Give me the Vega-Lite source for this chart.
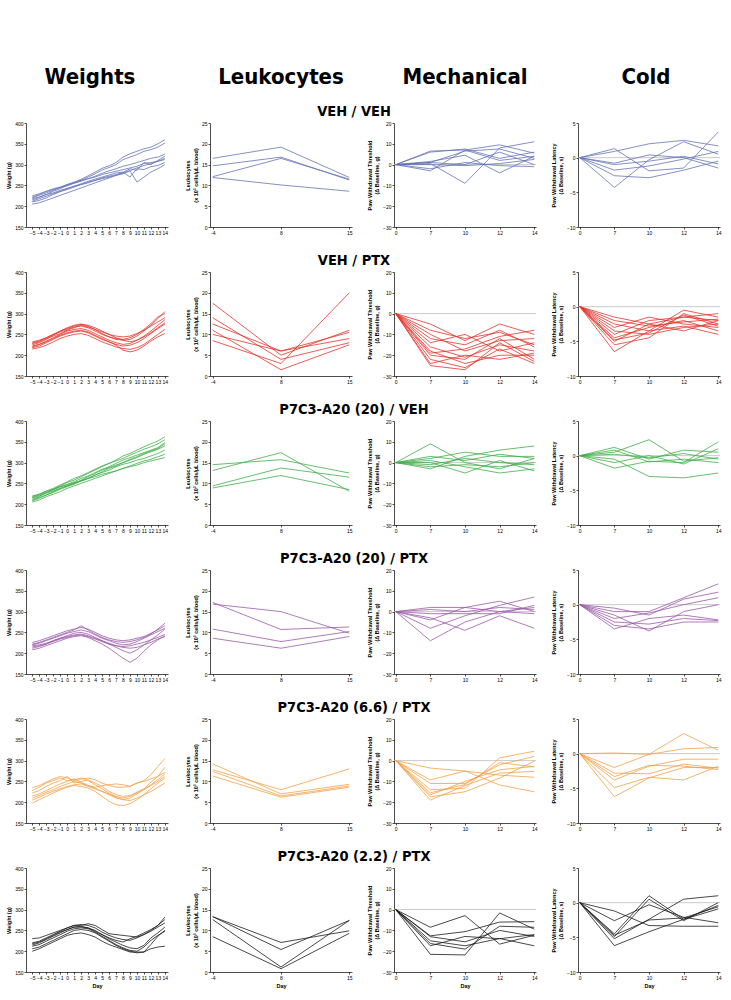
{
"$schema": "https://vega.github.io/schema/vega-lite/v6.json",
"padding": {"top": 66, "left": 6, "right": 0, "bottom": 0},
"bounds": "flush",
"columns": 4,
"spacing": {"row": 45, "column": 42},
"config": {
 "view": {"stroke": null},
 "font": "Liberation Sans",
 "axis": {"grid": false, "domainColor": "#000", "domainWidth": 0.7, "tickColor": "#000", "tickWidth": 0.7, "tickSize": 2, "labelFontSize": 5, "labelColor": "#000", "labelPadding": 1, "labelOverlap": false, "titleFontSize": 5.5, "titleFontWeight": "bold", "titleColor": "#000", "titlePadding": 3},
 "axisX": {"labelAngle": 0, "labelOverlap": false},
 "axisY": {"labelOverlap": false},
 "title": {"font": "Liberation Sans Narrow, DejaVu Sans Condensed, Liberation Sans, sans-serif", "fontSize": 14.5, "fontWeight": "bold", "color": "#000", "anchor": "middle", "frame": "group", "baseline": "alphabetic", "offset": 2, "dx": -111}
},
"datasets": {
"w1": [
{"a":1,"d":-5,"v":220},{"a":1,"d":-4,"v":226},{"a":1,"d":-3,"v":232},{"a":1,"d":-2,"v":238},{"a":1,"d":-1,"v":245},{"a":1,"d":0,"v":252},{"a":1,"d":1,"v":257},{"a":1,"d":2,"v":265},{"a":1,"d":3,"v":273},{"a":1,"d":4,"v":282},{"a":1,"d":5,"v":291},{"a":1,"d":6,"v":297},{"a":1,"d":7,"v":305},{"a":1,"d":8,"v":318},{"a":1,"d":9,"v":326},{"a":1,"d":10,"v":332},{"a":1,"d":11,"v":338},{"a":1,"d":12,"v":342},{"a":1,"d":13,"v":350},{"a":1,"d":14,"v":360},
{"a":2,"d":-5,"v":215},{"a":2,"d":-4,"v":221},{"a":2,"d":-3,"v":228},{"a":2,"d":-2,"v":236},{"a":2,"d":-1,"v":242},{"a":2,"d":0,"v":250},{"a":2,"d":1,"v":256},{"a":2,"d":2,"v":262},{"a":2,"d":3,"v":270},{"a":2,"d":4,"v":278},{"a":2,"d":5,"v":287},{"a":2,"d":6,"v":293},{"a":2,"d":7,"v":300},{"a":2,"d":8,"v":312},{"a":2,"d":9,"v":318},{"a":2,"d":10,"v":324},{"a":2,"d":11,"v":332},{"a":2,"d":12,"v":336},{"a":2,"d":13,"v":342},{"a":2,"d":14,"v":352},
{"a":3,"d":-5,"v":222},{"a":3,"d":-4,"v":228},{"a":3,"d":-3,"v":235},{"a":3,"d":-2,"v":240},{"a":3,"d":-1,"v":245},{"a":3,"d":0,"v":249},{"a":3,"d":1,"v":255},{"a":3,"d":2,"v":260},{"a":3,"d":3,"v":266},{"a":3,"d":4,"v":272},{"a":3,"d":5,"v":279},{"a":3,"d":6,"v":285},{"a":3,"d":7,"v":290},{"a":3,"d":8,"v":296},{"a":3,"d":9,"v":300},{"a":3,"d":10,"v":305},{"a":3,"d":11,"v":310},{"a":3,"d":12,"v":315},{"a":3,"d":13,"v":318},{"a":3,"d":14,"v":325},
{"a":4,"d":-5,"v":210},{"a":4,"d":-4,"v":214},{"a":4,"d":-3,"v":220},{"a":4,"d":-2,"v":228},{"a":4,"d":-1,"v":235},{"a":4,"d":0,"v":240},{"a":4,"d":1,"v":246},{"a":4,"d":2,"v":252},{"a":4,"d":3,"v":258},{"a":4,"d":4,"v":262},{"a":4,"d":5,"v":268},{"a":4,"d":6,"v":272},{"a":4,"d":7,"v":276},{"a":4,"d":8,"v":281},{"a":4,"d":9,"v":290},{"a":4,"d":10,"v":286},{"a":4,"d":11,"v":305},{"a":4,"d":12,"v":300},{"a":4,"d":13,"v":310},{"a":4,"d":14,"v":320},
{"a":5,"d":-5,"v":225},{"a":5,"d":-4,"v":230},{"a":5,"d":-3,"v":236},{"a":5,"d":-2,"v":242},{"a":5,"d":-1,"v":246},{"a":5,"d":0,"v":252},{"a":5,"d":1,"v":258},{"a":5,"d":2,"v":262},{"a":5,"d":3,"v":266},{"a":5,"d":4,"v":270},{"a":5,"d":5,"v":276},{"a":5,"d":6,"v":280},{"a":5,"d":7,"v":284},{"a":5,"d":8,"v":288},{"a":5,"d":9,"v":292},{"a":5,"d":10,"v":296},{"a":5,"d":11,"v":303},{"a":5,"d":12,"v":305},{"a":5,"d":13,"v":308},{"a":5,"d":14,"v":312},
{"a":6,"d":-5,"v":212},{"a":6,"d":-4,"v":218},{"a":6,"d":-3,"v":224},{"a":6,"d":-2,"v":230},{"a":6,"d":-1,"v":236},{"a":6,"d":0,"v":242},{"a":6,"d":1,"v":248},{"a":6,"d":2,"v":254},{"a":6,"d":3,"v":260},{"a":6,"d":4,"v":265},{"a":6,"d":5,"v":270},{"a":6,"d":6,"v":275},{"a":6,"d":7,"v":280},{"a":6,"d":8,"v":282},{"a":6,"d":9,"v":270},{"a":6,"d":10,"v":290},{"a":6,"d":11,"v":288},{"a":6,"d":12,"v":295},{"a":6,"d":13,"v":298},{"a":6,"d":14,"v":305},
{"a":7,"d":-5,"v":218},{"a":7,"d":-4,"v":222},{"a":7,"d":-3,"v":228},{"a":7,"d":-2,"v":232},{"a":7,"d":-1,"v":238},{"a":7,"d":0,"v":243},{"a":7,"d":1,"v":248},{"a":7,"d":2,"v":252},{"a":7,"d":3,"v":256},{"a":7,"d":4,"v":262},{"a":7,"d":5,"v":266},{"a":7,"d":6,"v":270},{"a":7,"d":7,"v":274},{"a":7,"d":8,"v":278},{"a":7,"d":9,"v":285},{"a":7,"d":10,"v":258},{"a":7,"d":11,"v":270},{"a":7,"d":12,"v":282},{"a":7,"d":13,"v":290},{"a":7,"d":14,"v":300},
{"a":8,"d":-5,"v":205},{"a":8,"d":-4,"v":208},{"a":8,"d":-3,"v":214},{"a":8,"d":-2,"v":220},{"a":8,"d":-1,"v":226},{"a":8,"d":0,"v":232},{"a":8,"d":1,"v":238},{"a":8,"d":2,"v":244},{"a":8,"d":3,"v":250},{"a":8,"d":4,"v":256},{"a":8,"d":5,"v":262},{"a":8,"d":6,"v":268},{"a":8,"d":7,"v":274},{"a":8,"d":8,"v":280},{"a":8,"d":9,"v":286},{"a":8,"d":10,"v":292},{"a":8,"d":11,"v":298},{"a":8,"d":12,"v":302},{"a":8,"d":13,"v":308},{"a":8,"d":14,"v":315}
],
"w2": [
{"a":1,"d":-5,"v":225},{"a":1,"d":-4,"v":230},{"a":1,"d":-3,"v":238},{"a":1,"d":-2,"v":248},{"a":1,"d":-1,"v":258},{"a":1,"d":0,"v":266},{"a":1,"d":1,"v":272},{"a":1,"d":2,"v":275},{"a":1,"d":3,"v":270},{"a":1,"d":4,"v":262},{"a":1,"d":5,"v":252},{"a":1,"d":6,"v":244},{"a":1,"d":7,"v":238},{"a":1,"d":8,"v":236},{"a":1,"d":9,"v":238},{"a":1,"d":10,"v":246},{"a":1,"d":11,"v":258},{"a":1,"d":12,"v":272},{"a":1,"d":13,"v":288},{"a":1,"d":14,"v":305},
{"a":2,"d":-5,"v":230},{"a":2,"d":-4,"v":234},{"a":2,"d":-3,"v":242},{"a":2,"d":-2,"v":250},{"a":2,"d":-1,"v":256},{"a":2,"d":0,"v":262},{"a":2,"d":1,"v":268},{"a":2,"d":2,"v":270},{"a":2,"d":3,"v":266},{"a":2,"d":4,"v":258},{"a":2,"d":5,"v":250},{"a":2,"d":6,"v":244},{"a":2,"d":7,"v":240},{"a":2,"d":8,"v":238},{"a":2,"d":9,"v":242},{"a":2,"d":10,"v":250},{"a":2,"d":11,"v":262},{"a":2,"d":12,"v":276},{"a":2,"d":13,"v":292},{"a":2,"d":14,"v":300},
{"a":3,"d":-5,"v":220},{"a":3,"d":-4,"v":226},{"a":3,"d":-3,"v":234},{"a":3,"d":-2,"v":242},{"a":3,"d":-1,"v":250},{"a":3,"d":0,"v":258},{"a":3,"d":1,"v":262},{"a":3,"d":2,"v":264},{"a":3,"d":3,"v":260},{"a":3,"d":4,"v":252},{"a":3,"d":5,"v":244},{"a":3,"d":6,"v":236},{"a":3,"d":7,"v":230},{"a":3,"d":8,"v":226},{"a":3,"d":9,"v":228},{"a":3,"d":10,"v":236},{"a":3,"d":11,"v":246},{"a":3,"d":12,"v":258},{"a":3,"d":13,"v":272},{"a":3,"d":14,"v":285},
{"a":4,"d":-5,"v":218},{"a":4,"d":-4,"v":222},{"a":4,"d":-3,"v":230},{"a":4,"d":-2,"v":238},{"a":4,"d":-1,"v":246},{"a":4,"d":0,"v":252},{"a":4,"d":1,"v":256},{"a":4,"d":2,"v":258},{"a":4,"d":3,"v":254},{"a":4,"d":4,"v":246},{"a":4,"d":5,"v":238},{"a":4,"d":6,"v":232},{"a":4,"d":7,"v":226},{"a":4,"d":8,"v":222},{"a":4,"d":9,"v":224},{"a":4,"d":10,"v":230},{"a":4,"d":11,"v":240},{"a":4,"d":12,"v":252},{"a":4,"d":13,"v":264},{"a":4,"d":14,"v":275},
{"a":5,"d":-5,"v":228},{"a":5,"d":-4,"v":232},{"a":5,"d":-3,"v":240},{"a":5,"d":-2,"v":246},{"a":5,"d":-1,"v":252},{"a":5,"d":0,"v":260},{"a":5,"d":1,"v":266},{"a":5,"d":2,"v":272},{"a":5,"d":3,"v":268},{"a":5,"d":4,"v":262},{"a":5,"d":5,"v":256},{"a":5,"d":6,"v":250},{"a":5,"d":7,"v":246},{"a":5,"d":8,"v":244},{"a":5,"d":9,"v":246},{"a":5,"d":10,"v":252},{"a":5,"d":11,"v":260},{"a":5,"d":12,"v":270},{"a":5,"d":13,"v":280},{"a":5,"d":14,"v":290},
{"a":6,"d":-5,"v":215},{"a":6,"d":-4,"v":218},{"a":6,"d":-3,"v":224},{"a":6,"d":-2,"v":232},{"a":6,"d":-1,"v":240},{"a":6,"d":0,"v":246},{"a":6,"d":1,"v":250},{"a":6,"d":2,"v":252},{"a":6,"d":3,"v":248},{"a":6,"d":4,"v":240},{"a":6,"d":5,"v":232},{"a":6,"d":6,"v":226},{"a":6,"d":7,"v":220},{"a":6,"d":8,"v":216},{"a":6,"d":9,"v":214},{"a":6,"d":10,"v":218},{"a":6,"d":11,"v":226},{"a":6,"d":12,"v":238},{"a":6,"d":13,"v":250},{"a":6,"d":14,"v":262},
{"a":7,"d":-5,"v":232},{"a":7,"d":-4,"v":236},{"a":7,"d":-3,"v":242},{"a":7,"d":-2,"v":250},{"a":7,"d":-1,"v":258},{"a":7,"d":0,"v":264},{"a":7,"d":1,"v":270},{"a":7,"d":2,"v":274},{"a":7,"d":3,"v":272},{"a":7,"d":4,"v":266},{"a":7,"d":5,"v":258},{"a":7,"d":6,"v":250},{"a":7,"d":7,"v":242},{"a":7,"d":8,"v":236},{"a":7,"d":9,"v":232},{"a":7,"d":10,"v":236},{"a":7,"d":11,"v":244},{"a":7,"d":12,"v":254},{"a":7,"d":13,"v":266},{"a":7,"d":14,"v":278},
{"a":8,"d":-5,"v":222},{"a":8,"d":-4,"v":226},{"a":8,"d":-3,"v":232},{"a":8,"d":-2,"v":240},{"a":8,"d":-1,"v":248},{"a":8,"d":0,"v":254},{"a":8,"d":1,"v":258},{"a":8,"d":2,"v":260},{"a":8,"d":3,"v":256},{"a":8,"d":4,"v":248},{"a":8,"d":5,"v":240},{"a":8,"d":6,"v":232},{"a":8,"d":7,"v":224},{"a":8,"d":8,"v":212},{"a":8,"d":9,"v":208},{"a":8,"d":10,"v":212},{"a":8,"d":11,"v":222},{"a":8,"d":12,"v":234},{"a":8,"d":13,"v":244},{"a":8,"d":14,"v":252}
],
"w3": [
{"a":1,"d":-5,"v":212},{"a":1,"d":-4,"v":218},{"a":1,"d":-3,"v":228},{"a":1,"d":-2,"v":236},{"a":1,"d":-1,"v":244},{"a":1,"d":0,"v":252},{"a":1,"d":1,"v":258},{"a":1,"d":2,"v":266},{"a":1,"d":3,"v":274},{"a":1,"d":4,"v":282},{"a":1,"d":5,"v":290},{"a":1,"d":6,"v":298},{"a":1,"d":7,"v":306},{"a":1,"d":8,"v":316},{"a":1,"d":9,"v":322},{"a":1,"d":10,"v":330},{"a":1,"d":11,"v":338},{"a":1,"d":12,"v":345},{"a":1,"d":13,"v":352},{"a":1,"d":14,"v":362},
{"a":2,"d":-5,"v":218},{"a":2,"d":-4,"v":224},{"a":2,"d":-3,"v":232},{"a":2,"d":-2,"v":238},{"a":2,"d":-1,"v":246},{"a":2,"d":0,"v":254},{"a":2,"d":1,"v":262},{"a":2,"d":2,"v":268},{"a":2,"d":3,"v":276},{"a":2,"d":4,"v":284},{"a":2,"d":5,"v":292},{"a":2,"d":6,"v":298},{"a":2,"d":7,"v":304},{"a":2,"d":8,"v":310},{"a":2,"d":9,"v":318},{"a":2,"d":10,"v":325},{"a":2,"d":11,"v":332},{"a":2,"d":12,"v":338},{"a":2,"d":13,"v":345},{"a":2,"d":14,"v":355},
{"a":3,"d":-5,"v":208},{"a":3,"d":-4,"v":214},{"a":3,"d":-3,"v":222},{"a":3,"d":-2,"v":230},{"a":3,"d":-1,"v":238},{"a":3,"d":0,"v":244},{"a":3,"d":1,"v":250},{"a":3,"d":2,"v":258},{"a":3,"d":3,"v":266},{"a":3,"d":4,"v":274},{"a":3,"d":5,"v":282},{"a":3,"d":6,"v":288},{"a":3,"d":7,"v":294},{"a":3,"d":8,"v":300},{"a":3,"d":9,"v":308},{"a":3,"d":10,"v":314},{"a":3,"d":11,"v":322},{"a":3,"d":12,"v":328},{"a":3,"d":13,"v":334},{"a":3,"d":14,"v":345},
{"a":4,"d":-5,"v":215},{"a":4,"d":-4,"v":220},{"a":4,"d":-3,"v":226},{"a":4,"d":-2,"v":232},{"a":4,"d":-1,"v":238},{"a":4,"d":0,"v":244},{"a":4,"d":1,"v":250},{"a":4,"d":2,"v":256},{"a":4,"d":3,"v":262},{"a":4,"d":4,"v":270},{"a":4,"d":5,"v":276},{"a":4,"d":6,"v":282},{"a":4,"d":7,"v":290},{"a":4,"d":8,"v":296},{"a":4,"d":9,"v":300},{"a":4,"d":10,"v":306},{"a":4,"d":11,"v":310},{"a":4,"d":12,"v":316},{"a":4,"d":13,"v":322},{"a":4,"d":14,"v":330},
{"a":5,"d":-5,"v":205},{"a":5,"d":-4,"v":210},{"a":5,"d":-3,"v":218},{"a":5,"d":-2,"v":224},{"a":5,"d":-1,"v":230},{"a":5,"d":0,"v":238},{"a":5,"d":1,"v":244},{"a":5,"d":2,"v":250},{"a":5,"d":3,"v":256},{"a":5,"d":4,"v":262},{"a":5,"d":5,"v":268},{"a":5,"d":6,"v":274},{"a":5,"d":7,"v":280},{"a":5,"d":8,"v":286},{"a":5,"d":9,"v":292},{"a":5,"d":10,"v":298},{"a":5,"d":11,"v":304},{"a":5,"d":12,"v":308},{"a":5,"d":13,"v":314},{"a":5,"d":14,"v":320},
{"a":6,"d":-5,"v":220},{"a":6,"d":-4,"v":224},{"a":6,"d":-3,"v":230},{"a":6,"d":-2,"v":236},{"a":6,"d":-1,"v":242},{"a":6,"d":0,"v":246},{"a":6,"d":1,"v":252},{"a":6,"d":2,"v":256},{"a":6,"d":3,"v":262},{"a":6,"d":4,"v":266},{"a":6,"d":5,"v":272},{"a":6,"d":6,"v":276},{"a":6,"d":7,"v":280},{"a":6,"d":8,"v":286},{"a":6,"d":9,"v":290},{"a":6,"d":10,"v":294},{"a":6,"d":11,"v":300},{"a":6,"d":12,"v":304},{"a":6,"d":13,"v":308},{"a":6,"d":14,"v":312},
{"a":7,"d":-5,"v":210},{"a":7,"d":-4,"v":216},{"a":7,"d":-3,"v":222},{"a":7,"d":-2,"v":228},{"a":7,"d":-1,"v":236},{"a":7,"d":0,"v":242},{"a":7,"d":1,"v":248},{"a":7,"d":2,"v":256},{"a":7,"d":3,"v":262},{"a":7,"d":4,"v":270},{"a":7,"d":5,"v":278},{"a":7,"d":6,"v":286},{"a":7,"d":7,"v":292},{"a":7,"d":8,"v":300},{"a":7,"d":9,"v":306},{"a":7,"d":10,"v":312},{"a":7,"d":11,"v":320},{"a":7,"d":12,"v":326},{"a":7,"d":13,"v":332},{"a":7,"d":14,"v":340},
{"a":8,"d":-5,"v":216},{"a":8,"d":-4,"v":222},{"a":8,"d":-3,"v":228},{"a":8,"d":-2,"v":234},{"a":8,"d":-1,"v":242},{"a":8,"d":0,"v":248},{"a":8,"d":1,"v":254},{"a":8,"d":2,"v":262},{"a":8,"d":3,"v":268},{"a":8,"d":4,"v":276},{"a":8,"d":5,"v":284},{"a":8,"d":6,"v":290},{"a":8,"d":7,"v":298},{"a":8,"d":8,"v":306},{"a":8,"d":9,"v":312},{"a":8,"d":10,"v":318},{"a":8,"d":11,"v":324},{"a":8,"d":12,"v":330},{"a":8,"d":13,"v":336},{"a":8,"d":14,"v":348}
],
"w4": [
{"a":1,"d":-5,"v":220},{"a":1,"d":-4,"v":224},{"a":1,"d":-3,"v":230},{"a":1,"d":-2,"v":236},{"a":1,"d":-1,"v":242},{"a":1,"d":0,"v":248},{"a":1,"d":1,"v":252},{"a":1,"d":2,"v":256},{"a":1,"d":3,"v":252},{"a":1,"d":4,"v":244},{"a":1,"d":5,"v":236},{"a":1,"d":6,"v":230},{"a":1,"d":7,"v":224},{"a":1,"d":8,"v":220},{"a":1,"d":9,"v":222},{"a":1,"d":10,"v":228},{"a":1,"d":11,"v":236},{"a":1,"d":12,"v":244},{"a":1,"d":13,"v":252},{"a":1,"d":14,"v":260},
{"a":2,"d":-5,"v":212},{"a":2,"d":-4,"v":216},{"a":2,"d":-3,"v":222},{"a":2,"d":-2,"v":230},{"a":2,"d":-1,"v":236},{"a":2,"d":0,"v":242},{"a":2,"d":1,"v":248},{"a":2,"d":2,"v":250},{"a":2,"d":3,"v":246},{"a":2,"d":4,"v":238},{"a":2,"d":5,"v":230},{"a":2,"d":6,"v":222},{"a":2,"d":7,"v":214},{"a":2,"d":8,"v":206},{"a":2,"d":9,"v":200},{"a":2,"d":10,"v":208},{"a":2,"d":11,"v":220},{"a":2,"d":12,"v":232},{"a":2,"d":13,"v":244},{"a":2,"d":14,"v":258},
{"a":3,"d":-5,"v":226},{"a":3,"d":-4,"v":230},{"a":3,"d":-3,"v":236},{"a":3,"d":-2,"v":242},{"a":3,"d":-1,"v":248},{"a":3,"d":0,"v":254},{"a":3,"d":1,"v":258},{"a":3,"d":2,"v":262},{"a":3,"d":3,"v":258},{"a":3,"d":4,"v":250},{"a":3,"d":5,"v":242},{"a":3,"d":6,"v":236},{"a":3,"d":7,"v":232},{"a":3,"d":8,"v":230},{"a":3,"d":9,"v":232},{"a":3,"d":10,"v":236},{"a":3,"d":11,"v":240},{"a":3,"d":12,"v":248},{"a":3,"d":13,"v":256},{"a":3,"d":14,"v":266},
{"a":4,"d":-5,"v":215},{"a":4,"d":-4,"v":218},{"a":4,"d":-3,"v":222},{"a":4,"d":-2,"v":228},{"a":4,"d":-1,"v":234},{"a":4,"d":0,"v":238},{"a":4,"d":1,"v":242},{"a":4,"d":2,"v":244},{"a":4,"d":3,"v":240},{"a":4,"d":4,"v":234},{"a":4,"d":5,"v":228},{"a":4,"d":6,"v":222},{"a":4,"d":7,"v":218},{"a":4,"d":8,"v":216},{"a":4,"d":9,"v":218},{"a":4,"d":10,"v":222},{"a":4,"d":11,"v":226},{"a":4,"d":12,"v":232},{"a":4,"d":13,"v":238},{"a":4,"d":14,"v":245},
{"a":5,"d":-5,"v":208},{"a":5,"d":-4,"v":212},{"a":5,"d":-3,"v":218},{"a":5,"d":-2,"v":224},{"a":5,"d":-1,"v":230},{"a":5,"d":0,"v":236},{"a":5,"d":1,"v":240},{"a":5,"d":2,"v":242},{"a":5,"d":3,"v":238},{"a":5,"d":4,"v":230},{"a":5,"d":5,"v":222},{"a":5,"d":6,"v":212},{"a":5,"d":7,"v":200},{"a":5,"d":8,"v":188},{"a":5,"d":9,"v":178},{"a":5,"d":10,"v":188},{"a":5,"d":11,"v":205},{"a":5,"d":12,"v":220},{"a":5,"d":13,"v":232},{"a":5,"d":14,"v":242},
{"a":6,"d":-5,"v":222},{"a":6,"d":-4,"v":226},{"a":6,"d":-3,"v":232},{"a":6,"d":-2,"v":238},{"a":6,"d":-1,"v":244},{"a":6,"d":0,"v":250},{"a":6,"d":1,"v":256},{"a":6,"d":2,"v":266},{"a":6,"d":3,"v":256},{"a":6,"d":4,"v":246},{"a":6,"d":5,"v":238},{"a":6,"d":6,"v":232},{"a":6,"d":7,"v":228},{"a":6,"d":8,"v":226},{"a":6,"d":9,"v":228},{"a":6,"d":10,"v":232},{"a":6,"d":11,"v":238},{"a":6,"d":12,"v":246},{"a":6,"d":13,"v":258},{"a":6,"d":14,"v":272},
{"a":7,"d":-5,"v":218},{"a":7,"d":-4,"v":220},{"a":7,"d":-3,"v":224},{"a":7,"d":-2,"v":230},{"a":7,"d":-1,"v":236},{"a":7,"d":0,"v":240},{"a":7,"d":1,"v":244},{"a":7,"d":2,"v":246},{"a":7,"d":3,"v":242},{"a":7,"d":4,"v":236},{"a":7,"d":5,"v":230},{"a":7,"d":6,"v":224},{"a":7,"d":7,"v":218},{"a":7,"d":8,"v":214},{"a":7,"d":9,"v":212},{"a":7,"d":10,"v":214},{"a":7,"d":11,"v":220},{"a":7,"d":12,"v":226},{"a":7,"d":13,"v":234},{"a":7,"d":14,"v":240}
],
"w5": [
{"a":1,"d":-5,"v":235},{"a":1,"d":-4,"v":240},{"a":1,"d":-3,"v":248},{"a":1,"d":-2,"v":256},{"a":1,"d":-1,"v":262},{"a":1,"d":0,"v":258},{"a":1,"d":1,"v":252},{"a":1,"d":2,"v":256},{"a":1,"d":3,"v":258},{"a":1,"d":4,"v":254},{"a":1,"d":5,"v":246},{"a":1,"d":6,"v":240},{"a":1,"d":7,"v":236},{"a":1,"d":8,"v":236},{"a":1,"d":9,"v":238},{"a":1,"d":10,"v":246},{"a":1,"d":11,"v":252},{"a":1,"d":12,"v":266},{"a":1,"d":13,"v":286},{"a":1,"d":14,"v":305},
{"a":2,"d":-5,"v":222},{"a":2,"d":-4,"v":228},{"a":2,"d":-3,"v":238},{"a":2,"d":-2,"v":246},{"a":2,"d":-1,"v":252},{"a":2,"d":0,"v":262},{"a":2,"d":1,"v":246},{"a":2,"d":2,"v":250},{"a":2,"d":3,"v":254},{"a":2,"d":4,"v":246},{"a":2,"d":5,"v":238},{"a":2,"d":6,"v":226},{"a":2,"d":7,"v":218},{"a":2,"d":8,"v":214},{"a":2,"d":9,"v":216},{"a":2,"d":10,"v":224},{"a":2,"d":11,"v":232},{"a":2,"d":12,"v":248},{"a":2,"d":13,"v":262},{"a":2,"d":14,"v":284},
{"a":3,"d":-5,"v":228},{"a":3,"d":-4,"v":236},{"a":3,"d":-3,"v":246},{"a":3,"d":-2,"v":252},{"a":3,"d":-1,"v":258},{"a":3,"d":0,"v":252},{"a":3,"d":1,"v":254},{"a":3,"d":2,"v":258},{"a":3,"d":3,"v":252},{"a":3,"d":4,"v":242},{"a":3,"d":5,"v":232},{"a":3,"d":6,"v":222},{"a":3,"d":7,"v":214},{"a":3,"d":8,"v":210},{"a":3,"d":9,"v":214},{"a":3,"d":10,"v":222},{"a":3,"d":11,"v":232},{"a":3,"d":12,"v":242},{"a":3,"d":13,"v":254},{"a":3,"d":14,"v":268},
{"a":4,"d":-5,"v":215},{"a":4,"d":-4,"v":220},{"a":4,"d":-3,"v":228},{"a":4,"d":-2,"v":236},{"a":4,"d":-1,"v":244},{"a":4,"d":0,"v":250},{"a":4,"d":1,"v":256},{"a":4,"d":2,"v":248},{"a":4,"d":3,"v":240},{"a":4,"d":4,"v":234},{"a":4,"d":5,"v":226},{"a":4,"d":6,"v":218},{"a":4,"d":7,"v":210},{"a":4,"d":8,"v":206},{"a":4,"d":9,"v":210},{"a":4,"d":10,"v":220},{"a":4,"d":11,"v":230},{"a":4,"d":12,"v":240},{"a":4,"d":13,"v":250},{"a":4,"d":14,"v":262},
{"a":5,"d":-5,"v":210},{"a":5,"d":-4,"v":216},{"a":5,"d":-3,"v":224},{"a":5,"d":-2,"v":230},{"a":5,"d":-1,"v":238},{"a":5,"d":0,"v":244},{"a":5,"d":1,"v":250},{"a":5,"d":2,"v":246},{"a":5,"d":3,"v":240},{"a":5,"d":4,"v":236},{"a":5,"d":5,"v":240},{"a":5,"d":6,"v":242},{"a":5,"d":7,"v":244},{"a":5,"d":8,"v":242},{"a":5,"d":9,"v":238},{"a":5,"d":10,"v":246},{"a":5,"d":11,"v":250},{"a":5,"d":12,"v":256},{"a":5,"d":13,"v":262},{"a":5,"d":14,"v":272},
{"a":6,"d":-5,"v":198},{"a":6,"d":-4,"v":206},{"a":6,"d":-3,"v":214},{"a":6,"d":-2,"v":222},{"a":6,"d":-1,"v":230},{"a":6,"d":0,"v":236},{"a":6,"d":1,"v":240},{"a":6,"d":2,"v":238},{"a":6,"d":3,"v":234},{"a":6,"d":4,"v":226},{"a":6,"d":5,"v":214},{"a":6,"d":6,"v":202},{"a":6,"d":7,"v":194},{"a":6,"d":8,"v":192},{"a":6,"d":9,"v":196},{"a":6,"d":10,"v":206},{"a":6,"d":11,"v":218},{"a":6,"d":12,"v":232},{"a":6,"d":13,"v":246},{"a":6,"d":14,"v":258},
{"a":7,"d":-5,"v":205},{"a":7,"d":-4,"v":212},{"a":7,"d":-3,"v":220},{"a":7,"d":-2,"v":226},{"a":7,"d":-1,"v":232},{"a":7,"d":0,"v":238},{"a":7,"d":1,"v":242},{"a":7,"d":2,"v":244},{"a":7,"d":3,"v":238},{"a":7,"d":4,"v":232},{"a":7,"d":5,"v":226},{"a":7,"d":6,"v":220},{"a":7,"d":7,"v":212},{"a":7,"d":8,"v":206},{"a":7,"d":9,"v":204},{"a":7,"d":10,"v":210},{"a":7,"d":11,"v":218},{"a":7,"d":12,"v":226},{"a":7,"d":13,"v":236},{"a":7,"d":14,"v":246}
],
"w6": [
{"a":1,"d":-5,"v":230},{"a":1,"d":-4,"v":232},{"a":1,"d":-3,"v":238},{"a":1,"d":-2,"v":244},{"a":1,"d":-1,"v":250},{"a":1,"d":0,"v":256},{"a":1,"d":1,"v":262},{"a":1,"d":2,"v":262},{"a":1,"d":3,"v":266},{"a":1,"d":4,"v":262},{"a":1,"d":5,"v":252},{"a":1,"d":6,"v":242},{"a":1,"d":7,"v":240},{"a":1,"d":8,"v":238},{"a":1,"d":9,"v":236},{"a":1,"d":10,"v":234},{"a":1,"d":11,"v":240},{"a":1,"d":12,"v":248},{"a":1,"d":13,"v":258},{"a":1,"d":14,"v":268},
{"a":2,"d":-5,"v":220},{"a":2,"d":-4,"v":224},{"a":2,"d":-3,"v":232},{"a":2,"d":-2,"v":240},{"a":2,"d":-1,"v":248},{"a":2,"d":0,"v":256},{"a":2,"d":1,"v":262},{"a":2,"d":2,"v":264},{"a":2,"d":3,"v":262},{"a":2,"d":4,"v":256},{"a":2,"d":5,"v":246},{"a":2,"d":6,"v":238},{"a":2,"d":7,"v":232},{"a":2,"d":8,"v":228},{"a":2,"d":9,"v":226},{"a":2,"d":10,"v":232},{"a":2,"d":11,"v":240},{"a":2,"d":12,"v":250},{"a":2,"d":13,"v":262},{"a":2,"d":14,"v":276},
{"a":3,"d":-5,"v":215},{"a":3,"d":-4,"v":220},{"a":3,"d":-3,"v":228},{"a":3,"d":-2,"v":236},{"a":3,"d":-1,"v":244},{"a":3,"d":0,"v":252},{"a":3,"d":1,"v":258},{"a":3,"d":2,"v":258},{"a":3,"d":3,"v":256},{"a":3,"d":4,"v":250},{"a":3,"d":5,"v":240},{"a":3,"d":6,"v":230},{"a":3,"d":7,"v":222},{"a":3,"d":8,"v":214},{"a":3,"d":9,"v":208},{"a":3,"d":10,"v":206},{"a":3,"d":11,"v":214},{"a":3,"d":12,"v":232},{"a":3,"d":13,"v":244},{"a":3,"d":14,"v":258},
{"a":4,"d":-5,"v":212},{"a":4,"d":-4,"v":216},{"a":4,"d":-3,"v":224},{"a":4,"d":-2,"v":232},{"a":4,"d":-1,"v":240},{"a":4,"d":0,"v":248},{"a":4,"d":1,"v":254},{"a":4,"d":2,"v":256},{"a":4,"d":3,"v":254},{"a":4,"d":4,"v":246},{"a":4,"d":5,"v":236},{"a":4,"d":6,"v":226},{"a":4,"d":7,"v":216},{"a":4,"d":8,"v":208},{"a":4,"d":9,"v":202},{"a":4,"d":10,"v":200},{"a":4,"d":11,"v":210},{"a":4,"d":12,"v":226},{"a":4,"d":13,"v":238},{"a":4,"d":14,"v":248},
{"a":5,"d":-5,"v":206},{"a":5,"d":-4,"v":210},{"a":5,"d":-3,"v":218},{"a":5,"d":-2,"v":226},{"a":5,"d":-1,"v":234},{"a":5,"d":0,"v":242},{"a":5,"d":1,"v":250},{"a":5,"d":2,"v":252},{"a":5,"d":3,"v":250},{"a":5,"d":4,"v":244},{"a":5,"d":5,"v":234},{"a":5,"d":6,"v":224},{"a":5,"d":7,"v":214},{"a":5,"d":8,"v":206},{"a":5,"d":9,"v":200},{"a":5,"d":10,"v":196},{"a":5,"d":11,"v":198},{"a":5,"d":12,"v":216},{"a":5,"d":13,"v":236},{"a":5,"d":14,"v":250},
{"a":6,"d":-5,"v":200},{"a":6,"d":-4,"v":206},{"a":6,"d":-3,"v":214},{"a":6,"d":-2,"v":222},{"a":6,"d":-1,"v":230},{"a":6,"d":0,"v":238},{"a":6,"d":1,"v":242},{"a":6,"d":2,"v":244},{"a":6,"d":3,"v":240},{"a":6,"d":4,"v":234},{"a":6,"d":5,"v":224},{"a":6,"d":6,"v":216},{"a":6,"d":7,"v":210},{"a":6,"d":8,"v":204},{"a":6,"d":9,"v":198},{"a":6,"d":10,"v":198},{"a":6,"d":11,"v":198},{"a":6,"d":12,"v":206},{"a":6,"d":13,"v":210},{"a":6,"d":14,"v":212},
{"a":7,"d":-5,"v":218},{"a":7,"d":-4,"v":222},{"a":7,"d":-3,"v":230},{"a":7,"d":-2,"v":238},{"a":7,"d":-1,"v":246},{"a":7,"d":0,"v":252},{"a":7,"d":1,"v":258},{"a":7,"d":2,"v":260},{"a":7,"d":3,"v":256},{"a":7,"d":4,"v":248},{"a":7,"d":5,"v":240},{"a":7,"d":6,"v":232},{"a":7,"d":7,"v":226},{"a":7,"d":8,"v":222},{"a":7,"d":9,"v":230},{"a":7,"d":10,"v":236},{"a":7,"d":11,"v":244},{"a":7,"d":12,"v":252},{"a":7,"d":13,"v":262},{"a":7,"d":14,"v":282}
],
"l1": [{"a":1,"d":-4,"v":16.5},{"a":1,"d":8,"v":19.2},{"a":1,"d":15,"v":11.9},{"a":2,"d":-4,"v":14.7},{"a":2,"d":8,"v":16.8},{"a":2,"d":15,"v":11.3},{"a":3,"d":-4,"v":12.1},{"a":3,"d":8,"v":16.5},{"a":3,"d":15,"v":11.5},{"a":4,"d":-4,"v":11.9},{"a":4,"d":8,"v":10.1},{"a":4,"d":15,"v":8.6}],
"l2": [{"a":1,"d":-4,"v":17.5},{"a":1,"d":8,"v":5},{"a":1,"d":15,"v":11},{"a":2,"d":-4,"v":14},{"a":2,"d":8,"v":4},{"a":2,"d":15,"v":8},{"a":3,"d":-4,"v":12.5},{"a":3,"d":8,"v":6},{"a":3,"d":15,"v":9},{"a":4,"d":-4,"v":11},{"a":4,"d":8,"v":1.5},{"a":4,"d":15,"v":7.5},{"a":5,"d":-4,"v":10},{"a":5,"d":8,"v":6},{"a":5,"d":15,"v":10.5},{"a":6,"d":-4,"v":8.5},{"a":6,"d":8,"v":3},{"a":6,"d":15,"v":20}],
"l3": [{"a":1,"d":-4,"v":14.5},{"a":1,"d":8,"v":15.7},{"a":1,"d":15,"v":12.5},{"a":2,"d":-4,"v":13.1},{"a":2,"d":8,"v":17.4},{"a":2,"d":15,"v":8.1},{"a":3,"d":-4,"v":9.4},{"a":3,"d":8,"v":13.7},{"a":3,"d":15,"v":11.5},{"a":4,"d":-4,"v":8.9},{"a":4,"d":8,"v":11.9},{"a":4,"d":15,"v":8.5}],
"l4": [{"a":1,"d":-4,"v":17.2},{"a":1,"d":8,"v":10.7},{"a":1,"d":15,"v":11.3},{"a":2,"d":-4,"v":16.8},{"a":2,"d":8,"v":15},{"a":2,"d":15,"v":9.8},{"a":3,"d":-4,"v":10.8},{"a":3,"d":8,"v":7.8},{"a":3,"d":15,"v":10.2},{"a":4,"d":-4,"v":8.6},{"a":4,"d":8,"v":6.2},{"a":4,"d":15,"v":9}],
"l5": [{"a":1,"d":-4,"v":14.2},{"a":1,"d":8,"v":7},{"a":1,"d":15,"v":9.3},{"a":2,"d":-4,"v":12.8},{"a":2,"d":8,"v":8},{"a":2,"d":15,"v":13},{"a":3,"d":-4,"v":12.4},{"a":3,"d":8,"v":6.5},{"a":3,"d":15,"v":8.9},{"a":4,"d":-4,"v":11.3},{"a":4,"d":8,"v":6.2},{"a":4,"d":15,"v":8.6}],
"l6": [{"a":1,"d":-4,"v":13.3},{"a":1,"d":8,"v":7.1},{"a":1,"d":15,"v":9.9},{"a":2,"d":-4,"v":13.3},{"a":2,"d":8,"v":5.4},{"a":2,"d":15,"v":12.4},{"a":3,"d":-4,"v":12.6},{"a":3,"d":8,"v":1.2},{"a":3,"d":15,"v":12.4},{"a":4,"d":-4,"v":8.5},{"a":4,"d":8,"v":0.8},{"a":4,"d":15,"v":9.3}],
"m1": [
{"a":1,"d":0,"v":0},{"a":1,"d":7,"v":6.5},{"a":1,"d":10,"v":7},{"a":1,"d":12,"v":9.5},{"a":1,"d":14,"v":5.5},
{"a":2,"d":0,"v":0},{"a":2,"d":7,"v":6},{"a":2,"d":10,"v":7.5},{"a":2,"d":12,"v":3},{"a":2,"d":14,"v":6},
{"a":3,"d":0,"v":0},{"a":3,"d":7,"v":1},{"a":3,"d":10,"v":6.5},{"a":3,"d":12,"v":7.5},{"a":3,"d":14,"v":3},
{"a":4,"d":0,"v":0},{"a":4,"d":7,"v":1.5},{"a":4,"d":10,"v":4.5},{"a":4,"d":12,"v":-4},{"a":4,"d":14,"v":4},
{"a":5,"d":0,"v":0},{"a":5,"d":7,"v":-3},{"a":5,"d":10,"v":7},{"a":5,"d":12,"v":2},{"a":5,"d":14,"v":4},
{"a":6,"d":0,"v":0},{"a":6,"d":7,"v":0.5},{"a":6,"d":10,"v":-9},{"a":6,"d":12,"v":8},{"a":6,"d":14,"v":11},
{"a":7,"d":0,"v":0},{"a":7,"d":7,"v":-2},{"a":7,"d":10,"v":1},{"a":7,"d":12,"v":-0.5},{"a":7,"d":14,"v":-1},
{"a":8,"d":0,"v":0},{"a":8,"d":7,"v":0},{"a":8,"d":10,"v":-0.5},{"a":8,"d":12,"v":0.5},{"a":8,"d":14,"v":2.5},
{"a":9,"d":0,"v":0},{"a":9,"d":7,"v":1},{"a":9,"d":10,"v":0},{"a":9,"d":12,"v":6},{"a":9,"d":14,"v":0}
],
"m2": [
{"a":1,"d":0,"v":0},{"a":1,"d":7,"v":-5},{"a":1,"d":10,"v":-13},{"a":1,"d":12,"v":-5},{"a":1,"d":14,"v":-10},
{"a":2,"d":0,"v":0},{"a":2,"d":7,"v":-8},{"a":2,"d":10,"v":-12},{"a":2,"d":12,"v":-9},{"a":2,"d":14,"v":-15},
{"a":3,"d":0,"v":0},{"a":3,"d":7,"v":-10},{"a":3,"d":10,"v":-18},{"a":3,"d":12,"v":-13},{"a":3,"d":14,"v":-12},
{"a":4,"d":0,"v":0},{"a":4,"d":7,"v":-12},{"a":4,"d":10,"v":-15},{"a":4,"d":12,"v":-8},{"a":4,"d":14,"v":-16},
{"a":5,"d":0,"v":0},{"a":5,"d":7,"v":-14},{"a":5,"d":10,"v":-10},{"a":5,"d":12,"v":-18},{"a":5,"d":14,"v":-14},
{"a":6,"d":0,"v":0},{"a":6,"d":7,"v":-16},{"a":6,"d":10,"v":-21},{"a":6,"d":12,"v":-15},{"a":6,"d":14,"v":-18},
{"a":7,"d":0,"v":0},{"a":7,"d":7,"v":-18},{"a":7,"d":10,"v":-24},{"a":7,"d":12,"v":-20},{"a":7,"d":14,"v":-20},
{"a":8,"d":0,"v":0},{"a":8,"d":7,"v":-20},{"a":8,"d":10,"v":-22},{"a":8,"d":12,"v":-12},{"a":8,"d":14,"v":-22},
{"a":9,"d":0,"v":0},{"a":9,"d":7,"v":-22},{"a":9,"d":10,"v":-26},{"a":9,"d":12,"v":-17},{"a":9,"d":14,"v":-24},
{"a":10,"d":0,"v":0},{"a":10,"d":7,"v":-24},{"a":10,"d":10,"v":-20},{"a":10,"d":12,"v":-22},{"a":10,"d":14,"v":-19},
{"a":11,"d":0,"v":0},{"a":11,"d":7,"v":-25},{"a":11,"d":10,"v":-27},{"a":11,"d":12,"v":-14},{"a":11,"d":14,"v":-23},
{"a":12,"d":0,"v":0},{"a":12,"d":7,"v":-19},{"a":12,"d":10,"v":-17},{"a":12,"d":12,"v":-11},{"a":12,"d":14,"v":-8}
],
"m3": [
{"a":1,"d":0,"v":0},{"a":1,"d":7,"v":9},{"a":1,"d":10,"v":0},{"a":1,"d":12,"v":-3},{"a":1,"d":14,"v":2},
{"a":2,"d":0,"v":0},{"a":2,"d":7,"v":-3},{"a":2,"d":10,"v":3},{"a":2,"d":12,"v":6},{"a":2,"d":14,"v":8},
{"a":3,"d":0,"v":0},{"a":3,"d":7,"v":2},{"a":3,"d":10,"v":5},{"a":3,"d":12,"v":3},{"a":3,"d":14,"v":3},
{"a":4,"d":0,"v":0},{"a":4,"d":7,"v":1},{"a":4,"d":10,"v":-2},{"a":4,"d":12,"v":-5},{"a":4,"d":14,"v":-3},
{"a":5,"d":0,"v":0},{"a":5,"d":7,"v":-1},{"a":5,"d":10,"v":2},{"a":5,"d":12,"v":0},{"a":5,"d":14,"v":-1},
{"a":6,"d":0,"v":0},{"a":6,"d":7,"v":0},{"a":6,"d":10,"v":-5},{"a":6,"d":12,"v":1},{"a":6,"d":14,"v":-4},
{"a":7,"d":0,"v":0},{"a":7,"d":7,"v":3},{"a":7,"d":10,"v":1},{"a":7,"d":12,"v":4},{"a":7,"d":14,"v":2},
{"a":8,"d":0,"v":0},{"a":8,"d":7,"v":-2},{"a":8,"d":10,"v":-1},{"a":8,"d":12,"v":-2},{"a":8,"d":14,"v":0}
],
"m4": [
{"a":1,"d":0,"v":0},{"a":1,"d":7,"v":-14},{"a":1,"d":10,"v":-5},{"a":1,"d":12,"v":0},{"a":1,"d":14,"v":2},
{"a":2,"d":0,"v":0},{"a":2,"d":7,"v":-8},{"a":2,"d":10,"v":-2},{"a":2,"d":12,"v":3},{"a":2,"d":14,"v":7},
{"a":3,"d":0,"v":0},{"a":3,"d":7,"v":-3},{"a":3,"d":10,"v":-9},{"a":3,"d":12,"v":-2},{"a":3,"d":14,"v":-8},
{"a":4,"d":0,"v":0},{"a":4,"d":7,"v":1},{"a":4,"d":10,"v":0},{"a":4,"d":12,"v":2},{"a":4,"d":14,"v":1},
{"a":5,"d":0,"v":0},{"a":5,"d":7,"v":2},{"a":5,"d":10,"v":2},{"a":5,"d":12,"v":5},{"a":5,"d":14,"v":0},
{"a":6,"d":0,"v":0},{"a":6,"d":7,"v":-1},{"a":6,"d":10,"v":-1},{"a":6,"d":12,"v":-1},{"a":6,"d":14,"v":3},
{"a":7,"d":0,"v":0},{"a":7,"d":7,"v":-4},{"a":7,"d":10,"v":2},{"a":7,"d":12,"v":0},{"a":7,"d":14,"v":-1}
],
"m5": [
{"a":1,"d":0,"v":0},{"a":1,"d":7,"v":-3.6},{"a":1,"d":10,"v":-5},{"a":1,"d":12,"v":-11.7},{"a":1,"d":14,"v":-15},
{"a":2,"d":0,"v":0},{"a":2,"d":7,"v":-9.3},{"a":2,"d":10,"v":-5},{"a":2,"d":12,"v":-7},{"a":2,"d":14,"v":-8},
{"a":3,"d":0,"v":0},{"a":3,"d":7,"v":-11},{"a":3,"d":10,"v":-11},{"a":3,"d":12,"v":-2},{"a":3,"d":14,"v":2},
{"a":4,"d":0,"v":0},{"a":4,"d":7,"v":-14},{"a":4,"d":10,"v":-13.3},{"a":4,"d":12,"v":1.3},{"a":4,"d":14,"v":4.5},
{"a":5,"d":0,"v":0},{"a":5,"d":7,"v":-16.5},{"a":5,"d":10,"v":-10},{"a":5,"d":12,"v":-4.4},{"a":5,"d":14,"v":-2.8},
{"a":6,"d":0,"v":0},{"a":6,"d":7,"v":-17.4},{"a":6,"d":10,"v":-15},{"a":6,"d":12,"v":-8.4},{"a":6,"d":14,"v":-0.3},
{"a":7,"d":0,"v":0},{"a":7,"d":7,"v":-19},{"a":7,"d":10,"v":-12},{"a":7,"d":12,"v":-6},{"a":7,"d":14,"v":-5.2},
{"a":8,"d":0,"v":0},{"a":8,"d":7,"v":-15.5},{"a":8,"d":10,"v":-11.5},{"a":8,"d":12,"v":-1},{"a":8,"d":14,"v":-3}
],
"m6": [
{"a":1,"d":0,"v":0},{"a":1,"d":7,"v":-8.5},{"a":1,"d":10,"v":-2.9},{"a":1,"d":12,"v":-16.6},{"a":1,"d":14,"v":-12.3},
{"a":2,"d":0,"v":0},{"a":2,"d":7,"v":-21.5},{"a":2,"d":10,"v":-21.8},{"a":2,"d":12,"v":-1.6},{"a":2,"d":14,"v":-9.4},
{"a":3,"d":0,"v":0},{"a":3,"d":7,"v":-12.6},{"a":3,"d":10,"v":-10.6},{"a":3,"d":12,"v":-6},{"a":3,"d":14,"v":-5.8},
{"a":4,"d":0,"v":0},{"a":4,"d":7,"v":-13},{"a":4,"d":10,"v":-15.5},{"a":4,"d":12,"v":-10},{"a":4,"d":14,"v":-12.9},
{"a":5,"d":0,"v":0},{"a":5,"d":7,"v":-15},{"a":5,"d":10,"v":-17.4},{"a":5,"d":12,"v":-13.9},{"a":5,"d":14,"v":-17.4},
{"a":6,"d":0,"v":0},{"a":6,"d":7,"v":-16.3},{"a":6,"d":10,"v":-19},{"a":6,"d":12,"v":-8},{"a":6,"d":14,"v":-8.5},
{"a":7,"d":0,"v":0},{"a":7,"d":7,"v":-17.4},{"a":7,"d":10,"v":-12.9},{"a":7,"d":12,"v":-14},{"a":7,"d":14,"v":-12}
],
"c1": [
{"a":1,"d":0,"v":0},{"a":1,"d":7,"v":-4.3},{"a":1,"d":10,"v":-0.3},{"a":1,"d":12,"v":2.3},{"a":1,"d":14,"v":0.5},
{"a":2,"d":0,"v":0},{"a":2,"d":7,"v":1.3},{"a":2,"d":10,"v":-1.9},{"a":2,"d":12,"v":-1.5},{"a":2,"d":14,"v":3.7},
{"a":3,"d":0,"v":0},{"a":3,"d":7,"v":0.9},{"a":3,"d":10,"v":2},{"a":3,"d":12,"v":2.5},{"a":3,"d":14,"v":1.7},
{"a":4,"d":0,"v":0},{"a":4,"d":7,"v":-0.8},{"a":4,"d":10,"v":0.4},{"a":4,"d":12,"v":0},{"a":4,"d":14,"v":-1.5},
{"a":5,"d":0,"v":0},{"a":5,"d":7,"v":-1.8},{"a":5,"d":10,"v":-1.2},{"a":5,"d":12,"v":-0.2},{"a":5,"d":14,"v":0.9},
{"a":6,"d":0,"v":0},{"a":6,"d":7,"v":-2.6},{"a":6,"d":10,"v":-2.9},{"a":6,"d":12,"v":-1.8},{"a":6,"d":14,"v":-0.5},
{"a":7,"d":0,"v":0},{"a":7,"d":7,"v":-1},{"a":7,"d":10,"v":-0.5},{"a":7,"d":12,"v":0.2},{"a":7,"d":14,"v":-0.9}
],
"c2": [
{"a":1,"d":0,"v":0},{"a":1,"d":7,"v":-1.5},{"a":1,"d":10,"v":-2.5},{"a":1,"d":12,"v":-1.5},{"a":1,"d":14,"v":-2},
{"a":2,"d":0,"v":0},{"a":2,"d":7,"v":-2.5},{"a":2,"d":10,"v":-3.5},{"a":2,"d":12,"v":-0.5},{"a":2,"d":14,"v":-1.5},
{"a":3,"d":0,"v":0},{"a":3,"d":7,"v":-3},{"a":3,"d":10,"v":-1.5},{"a":3,"d":12,"v":-2.5},{"a":3,"d":14,"v":-3},
{"a":4,"d":0,"v":0},{"a":4,"d":7,"v":-3.5},{"a":4,"d":10,"v":-4},{"a":4,"d":12,"v":-3},{"a":4,"d":14,"v":-2.5},
{"a":5,"d":0,"v":0},{"a":5,"d":7,"v":-4},{"a":5,"d":10,"v":-2},{"a":5,"d":12,"v":-1.5},{"a":5,"d":14,"v":-1},
{"a":6,"d":0,"v":0},{"a":6,"d":7,"v":-4.5},{"a":6,"d":10,"v":-3},{"a":6,"d":12,"v":-2},{"a":6,"d":14,"v":-3.5},
{"a":7,"d":0,"v":0},{"a":7,"d":7,"v":-5},{"a":7,"d":10,"v":-2.5},{"a":7,"d":12,"v":-3.5},{"a":7,"d":14,"v":-2},
{"a":8,"d":0,"v":0},{"a":8,"d":7,"v":-5.5},{"a":8,"d":10,"v":-4.5},{"a":8,"d":12,"v":-1},{"a":8,"d":14,"v":-2.5},
{"a":9,"d":0,"v":0},{"a":9,"d":7,"v":-6.5},{"a":9,"d":10,"v":-3.5},{"a":9,"d":12,"v":-2.8},{"a":9,"d":14,"v":-4},
{"a":10,"d":0,"v":0},{"a":10,"d":7,"v":-2},{"a":10,"d":10,"v":-2.8},{"a":10,"d":12,"v":-2.2},{"a":10,"d":14,"v":-1.8},
{"a":11,"d":0,"v":0},{"a":11,"d":7,"v":-4.8},{"a":11,"d":10,"v":-3.8},{"a":11,"d":12,"v":-1.2},{"a":11,"d":14,"v":-2.8}
],
"c3": [
{"a":1,"d":0,"v":0},{"a":1,"d":7,"v":1.2},{"a":1,"d":10,"v":-0.5},{"a":1,"d":12,"v":0.8},{"a":1,"d":14,"v":0.5},
{"a":2,"d":0,"v":0},{"a":2,"d":7,"v":0.5},{"a":2,"d":10,"v":2.3},{"a":2,"d":12,"v":-0.8},{"a":2,"d":14,"v":-0.3},
{"a":3,"d":0,"v":0},{"a":3,"d":7,"v":-0.5},{"a":3,"d":10,"v":-3},{"a":3,"d":12,"v":-3.2},{"a":3,"d":14,"v":-2.5},
{"a":4,"d":0,"v":0},{"a":4,"d":7,"v":-1.8},{"a":4,"d":10,"v":-0.8},{"a":4,"d":12,"v":-1},{"a":4,"d":14,"v":2},
{"a":5,"d":0,"v":0},{"a":5,"d":7,"v":0.2},{"a":5,"d":10,"v":-0.3},{"a":5,"d":12,"v":0.3},{"a":5,"d":14,"v":-0.5},
{"a":6,"d":0,"v":0},{"a":6,"d":7,"v":-1},{"a":6,"d":10,"v":0},{"a":6,"d":12,"v":-1.2},{"a":6,"d":14,"v":1},
{"a":7,"d":0,"v":0},{"a":7,"d":7,"v":0.8},{"a":7,"d":10,"v":-0.9},{"a":7,"d":12,"v":-0.5},{"a":7,"d":14,"v":-1}
],
"c4": [
{"a":1,"d":0,"v":0},{"a":1,"d":7,"v":-1},{"a":1,"d":10,"v":-1},{"a":1,"d":12,"v":1},{"a":1,"d":14,"v":3},
{"a":2,"d":0,"v":0},{"a":2,"d":7,"v":-0.5},{"a":2,"d":10,"v":-1.5},{"a":2,"d":12,"v":0.8},{"a":2,"d":14,"v":1.8},
{"a":3,"d":0,"v":0},{"a":3,"d":7,"v":-2},{"a":3,"d":10,"v":-1.2},{"a":3,"d":12,"v":0},{"a":3,"d":14,"v":1},
{"a":4,"d":0,"v":0},{"a":4,"d":7,"v":-2.5},{"a":4,"d":10,"v":-2.8},{"a":4,"d":12,"v":-2},{"a":4,"d":14,"v":-2.3},
{"a":5,"d":0,"v":0},{"a":5,"d":7,"v":-3},{"a":5,"d":10,"v":-3.5},{"a":5,"d":12,"v":-2.5},{"a":5,"d":14,"v":-2.5},
{"a":6,"d":0,"v":0},{"a":6,"d":7,"v":-3.5},{"a":6,"d":10,"v":-2},{"a":6,"d":12,"v":-1.5},{"a":6,"d":14,"v":-2.2},
{"a":7,"d":0,"v":0},{"a":7,"d":7,"v":-1.5},{"a":7,"d":10,"v":-3.8},{"a":7,"d":12,"v":-1},{"a":7,"d":14,"v":0}
],
"c5": [
{"a":1,"d":0,"v":0},{"a":1,"d":7,"v":0.1},{"a":1,"d":10,"v":-0.1},{"a":1,"d":12,"v":2.9},{"a":1,"d":14,"v":0.5},
{"a":2,"d":0,"v":0},{"a":2,"d":7,"v":-2},{"a":2,"d":10,"v":-0.1},{"a":2,"d":12,"v":0.7},{"a":2,"d":14,"v":0.9},
{"a":3,"d":0,"v":0},{"a":3,"d":7,"v":-3.3},{"a":3,"d":10,"v":-1.7},{"a":3,"d":12,"v":-1.8},{"a":3,"d":14,"v":-2.3},
{"a":4,"d":0,"v":0},{"a":4,"d":7,"v":-3.8},{"a":4,"d":10,"v":-1.8},{"a":4,"d":12,"v":-0.8},{"a":4,"d":14,"v":-0.8},
{"a":5,"d":0,"v":0},{"a":5,"d":7,"v":-4.9},{"a":5,"d":10,"v":-3.4},{"a":5,"d":12,"v":-3.8},{"a":5,"d":14,"v":-1.8},
{"a":6,"d":0,"v":0},{"a":6,"d":7,"v":-6.2},{"a":6,"d":10,"v":-3.5},{"a":6,"d":12,"v":-2},{"a":6,"d":14,"v":-2},
{"a":7,"d":0,"v":0},{"a":7,"d":7,"v":-2.8},{"a":7,"d":10,"v":-2.9},{"a":7,"d":12,"v":-1.5},{"a":7,"d":14,"v":-2.1}
],
"c6": [
{"a":1,"d":0,"v":0},{"a":1,"d":7,"v":-1.2},{"a":1,"d":10,"v":-3.3},{"a":1,"d":12,"v":-3.4},{"a":1,"d":14,"v":-3.4},
{"a":2,"d":0,"v":0},{"a":2,"d":7,"v":-2.6},{"a":2,"d":10,"v":-0.3},{"a":2,"d":12,"v":-2.1},{"a":2,"d":14,"v":-2.9},
{"a":3,"d":0,"v":0},{"a":3,"d":7,"v":-4.5},{"a":3,"d":10,"v":1},{"a":3,"d":12,"v":-2.4},{"a":3,"d":14,"v":-0.4},
{"a":4,"d":0,"v":0},{"a":4,"d":7,"v":-4.9},{"a":4,"d":10,"v":0.5},{"a":4,"d":12,"v":-2.6},{"a":4,"d":14,"v":0},
{"a":5,"d":0,"v":0},{"a":5,"d":7,"v":-5.2},{"a":5,"d":10,"v":-2.4},{"a":5,"d":12,"v":0.5},{"a":5,"d":14,"v":1},
{"a":6,"d":0,"v":0},{"a":6,"d":7,"v":-6.2},{"a":6,"d":10,"v":-4.2},{"a":6,"d":12,"v":-2.4},{"a":6,"d":14,"v":-0.9},
{"a":7,"d":0,"v":0},{"a":7,"d":7,"v":-4.7},{"a":7,"d":10,"v":-2.5},{"a":7,"d":12,"v":-2.2},{"a":7,"d":14,"v":-0.6}
]
},
"concat": [
 {"width": 142, "height": 2, "data": {"values": [{"t": "Weights"}]}, "mark": {"type": "text", "font": "Liberation Sans Narrow, DejaVu Sans Condensed, Liberation Sans, sans-serif", "fontSize": 22, "fontWeight": "bold", "dx": -7}, "encoding": {"text": {"field": "t"}}},
 {"width": 142, "height": 2, "data": {"values": [{"t": "Leukocytes"}]}, "mark": {"type": "text", "font": "Liberation Sans Narrow, DejaVu Sans Condensed, Liberation Sans, sans-serif", "fontSize": 22, "fontWeight": "bold"}, "encoding": {"text": {"field": "t"}}},
 {"width": 142, "height": 2, "data": {"values": [{"t": "Mechanical"}]}, "mark": {"type": "text", "font": "Liberation Sans Narrow, DejaVu Sans Condensed, Liberation Sans, sans-serif", "fontSize": 22, "fontWeight": "bold"}, "encoding": {"text": {"field": "t"}}},
 {"width": 142, "height": 2, "data": {"values": [{"t": "Cold"}]}, "mark": {"type": "text", "font": "Liberation Sans Narrow, DejaVu Sans Condensed, Liberation Sans, sans-serif", "fontSize": 22, "fontWeight": "bold", "dx": -3}, "encoding": {"text": {"field": "t"}}},

 {"width": 142, "height": 104, "data": {"name": "w1"}, "mark": {"type": "line", "color": "#6574b8", "strokeWidth": 0.8}, "encoding": {"x": {"field": "d", "type": "quantitative", "scale": {"domain": [-5.9, 14.45], "nice": false, "zero": false}, "axis": {"values": [-5,-4,-3,-2,-1,0,1,2,3,4,5,6,7,8,9,10,11,12,13,14], "title": null}}, "y": {"field": "v", "type": "quantitative", "scale": {"domain": [150, 400], "nice": false}, "axis": {"values": [150,200,250,300,350,400], "title": "Weight (g)"}}, "detail": {"field": "a"}}},
 {"width": 142, "height": 104, "data": {"name": "l1"}, "mark": {"type": "line", "color": "#6574b8", "strokeWidth": 0.8}, "encoding": {"x": {"field": "d", "type": "ordinal", "scale": {"type": "point", "domain": [-4, 8, 15], "padding": 0.04}, "axis": {"title": null}}, "y": {"field": "v", "type": "quantitative", "scale": {"domain": [0, 25], "nice": false}, "axis": {"values": [0,5,10,15,20,25], "title": ["Leukocytes", "(x 10³ cells/µL blood)"]}}, "detail": {"field": "a"}}},
 {"title": {"text": "VEH / VEH"}, "width": 142, "height": 104, "layer": [
  {"data": {"values": [{"z": 0}]}, "mark": {"type": "rule", "color": "#bdbdbd", "strokeWidth": 0.8}, "encoding": {"y": {"datum": 0, "type": "quantitative", "axis": {"values": [-30,-20,-10,0,10,20], "labelOverlap": false, "title": ["Paw Withdrawal Threshold", "(Δ Baseline, g)"]}}}},
  {"data": {"name": "m1"}, "mark": {"type": "line", "color": "#6574b8", "strokeWidth": 0.8}, "encoding": {"x": {"field": "d", "type": "ordinal", "scale": {"type": "point", "domain": [0, 7, 10, 12, 14], "padding": 0.05}, "axis": {"title": null}}, "y": {"field": "v", "type": "quantitative", "scale": {"domain": [-30, 20], "nice": false}, "axis": {"values": [-30,-20,-10,0,10,20], "labelOverlap": false, "title": ["Paw Withdrawal Threshold", "(Δ Baseline, g)"]}}, "detail": {"field": "a"}}}
 ]},
 {"width": 142, "height": 104, "layer": [
  {"data": {"values": [{"z": 0}]}, "mark": {"type": "rule", "color": "#bdbdbd", "strokeWidth": 0.8}, "encoding": {"y": {"datum": 0, "type": "quantitative", "axis": {"values": [-10,-5,0,5], "labelOverlap": false, "title": ["Paw Withdrawal Latency", "(Δ Baseline, s)"]}}}},
  {"data": {"name": "c1"}, "mark": {"type": "line", "color": "#6574b8", "strokeWidth": 0.8}, "encoding": {"x": {"field": "d", "type": "ordinal", "scale": {"type": "point", "domain": [0, 7, 10, 12, 14], "padding": 0.05}, "axis": {"title": null}}, "y": {"field": "v", "type": "quantitative", "scale": {"domain": [-10, 5], "nice": false}, "axis": {"values": [-10,-5,0,5], "labelOverlap": false, "title": ["Paw Withdrawal Latency", "(Δ Baseline, s)"]}}, "detail": {"field": "a"}}}
 ]},

 {"width": 142, "height": 104, "data": {"name": "w2"}, "mark": {"type": "line", "color": "#e4322b", "strokeWidth": 0.8}, "encoding": {"x": {"field": "d", "type": "quantitative", "scale": {"domain": [-5.9, 14.45], "nice": false, "zero": false}, "axis": {"values": [-5,-4,-3,-2,-1,0,1,2,3,4,5,6,7,8,9,10,11,12,13,14], "title": null}}, "y": {"field": "v", "type": "quantitative", "scale": {"domain": [150, 400], "nice": false}, "axis": {"values": [150,200,250,300,350,400], "title": "Weight (g)"}}, "detail": {"field": "a"}}},
 {"width": 142, "height": 104, "data": {"name": "l2"}, "mark": {"type": "line", "color": "#e4322b", "strokeWidth": 0.8}, "encoding": {"x": {"field": "d", "type": "ordinal", "scale": {"type": "point", "domain": [-4, 8, 15], "padding": 0.04}, "axis": {"title": null}}, "y": {"field": "v", "type": "quantitative", "scale": {"domain": [0, 25], "nice": false}, "axis": {"values": [0,5,10,15,20,25], "title": ["Leukocytes", "(x 10³ cells/µL blood)"]}}, "detail": {"field": "a"}}},
 {"title": {"text": "VEH / PTX"}, "width": 142, "height": 104, "layer": [
  {"data": {"values": [{"z": 0}]}, "mark": {"type": "rule", "color": "#bdbdbd", "strokeWidth": 0.8}, "encoding": {"y": {"datum": 0, "type": "quantitative", "axis": {"values": [-30,-20,-10,0,10,20], "labelOverlap": false, "title": ["Paw Withdrawal Threshold", "(Δ Baseline, g)"]}}}},
  {"data": {"name": "m2"}, "mark": {"type": "line", "color": "#e4322b", "strokeWidth": 0.8}, "encoding": {"x": {"field": "d", "type": "ordinal", "scale": {"type": "point", "domain": [0, 7, 10, 12, 14], "padding": 0.05}, "axis": {"title": null}}, "y": {"field": "v", "type": "quantitative", "scale": {"domain": [-30, 20], "nice": false}, "axis": {"values": [-30,-20,-10,0,10,20], "labelOverlap": false, "title": ["Paw Withdrawal Threshold", "(Δ Baseline, g)"]}}, "detail": {"field": "a"}}}
 ]},
 {"width": 142, "height": 104, "layer": [
  {"data": {"values": [{"z": 0}]}, "mark": {"type": "rule", "color": "#bdbdbd", "strokeWidth": 0.8}, "encoding": {"y": {"datum": 0, "type": "quantitative", "axis": {"values": [-10,-5,0,5], "labelOverlap": false, "title": ["Paw Withdrawal Latency", "(Δ Baseline, s)"]}}}},
  {"data": {"name": "c2"}, "mark": {"type": "line", "color": "#e4322b", "strokeWidth": 0.8}, "encoding": {"x": {"field": "d", "type": "ordinal", "scale": {"type": "point", "domain": [0, 7, 10, 12, 14], "padding": 0.05}, "axis": {"title": null}}, "y": {"field": "v", "type": "quantitative", "scale": {"domain": [-10, 5], "nice": false}, "axis": {"values": [-10,-5,0,5], "labelOverlap": false, "title": ["Paw Withdrawal Latency", "(Δ Baseline, s)"]}}, "detail": {"field": "a"}}}
 ]},

 {"width": 142, "height": 104, "data": {"name": "w3"}, "mark": {"type": "line", "color": "#3fae49", "strokeWidth": 0.8}, "encoding": {"x": {"field": "d", "type": "quantitative", "scale": {"domain": [-5.9, 14.45], "nice": false, "zero": false}, "axis": {"values": [-5,-4,-3,-2,-1,0,1,2,3,4,5,6,7,8,9,10,11,12,13,14], "title": null}}, "y": {"field": "v", "type": "quantitative", "scale": {"domain": [150, 400], "nice": false}, "axis": {"values": [150,200,250,300,350,400], "title": "Weight (g)"}}, "detail": {"field": "a"}}},
 {"width": 142, "height": 104, "data": {"name": "l3"}, "mark": {"type": "line", "color": "#3fae49", "strokeWidth": 0.8}, "encoding": {"x": {"field": "d", "type": "ordinal", "scale": {"type": "point", "domain": [-4, 8, 15], "padding": 0.04}, "axis": {"title": null}}, "y": {"field": "v", "type": "quantitative", "scale": {"domain": [0, 25], "nice": false}, "axis": {"values": [0,5,10,15,20,25], "title": ["Leukocytes", "(x 10³ cells/µL blood)"]}}, "detail": {"field": "a"}}},
 {"title": {"text": "P7C3-A20 (20) / VEH"}, "width": 142, "height": 104, "layer": [
  {"data": {"values": [{"z": 0}]}, "mark": {"type": "rule", "color": "#bdbdbd", "strokeWidth": 0.8}, "encoding": {"y": {"datum": 0, "type": "quantitative", "axis": {"values": [-30,-20,-10,0,10,20], "labelOverlap": false, "title": ["Paw Withdrawal Threshold", "(Δ Baseline, g)"]}}}},
  {"data": {"name": "m3"}, "mark": {"type": "line", "color": "#3fae49", "strokeWidth": 0.8}, "encoding": {"x": {"field": "d", "type": "ordinal", "scale": {"type": "point", "domain": [0, 7, 10, 12, 14], "padding": 0.05}, "axis": {"title": null}}, "y": {"field": "v", "type": "quantitative", "scale": {"domain": [-30, 20], "nice": false}, "axis": {"values": [-30,-20,-10,0,10,20], "labelOverlap": false, "title": ["Paw Withdrawal Threshold", "(Δ Baseline, g)"]}}, "detail": {"field": "a"}}}
 ]},
 {"width": 142, "height": 104, "layer": [
  {"data": {"values": [{"z": 0}]}, "mark": {"type": "rule", "color": "#bdbdbd", "strokeWidth": 0.8}, "encoding": {"y": {"datum": 0, "type": "quantitative", "axis": {"values": [-10,-5,0,5], "labelOverlap": false, "title": ["Paw Withdrawal Latency", "(Δ Baseline, s)"]}}}},
  {"data": {"name": "c3"}, "mark": {"type": "line", "color": "#3fae49", "strokeWidth": 0.8}, "encoding": {"x": {"field": "d", "type": "ordinal", "scale": {"type": "point", "domain": [0, 7, 10, 12, 14], "padding": 0.05}, "axis": {"title": null}}, "y": {"field": "v", "type": "quantitative", "scale": {"domain": [-10, 5], "nice": false}, "axis": {"values": [-10,-5,0,5], "labelOverlap": false, "title": ["Paw Withdrawal Latency", "(Δ Baseline, s)"]}}, "detail": {"field": "a"}}}
 ]},

 {"width": 142, "height": 104, "data": {"name": "w4"}, "mark": {"type": "line", "color": "#9c59a9", "strokeWidth": 0.8}, "encoding": {"x": {"field": "d", "type": "quantitative", "scale": {"domain": [-5.9, 14.45], "nice": false, "zero": false}, "axis": {"values": [-5,-4,-3,-2,-1,0,1,2,3,4,5,6,7,8,9,10,11,12,13,14], "title": null}}, "y": {"field": "v", "type": "quantitative", "scale": {"domain": [150, 400], "nice": false}, "axis": {"values": [150,200,250,300,350,400], "title": "Weight (g)"}}, "detail": {"field": "a"}}},
 {"width": 142, "height": 104, "data": {"name": "l4"}, "mark": {"type": "line", "color": "#9c59a9", "strokeWidth": 0.8}, "encoding": {"x": {"field": "d", "type": "ordinal", "scale": {"type": "point", "domain": [-4, 8, 15], "padding": 0.04}, "axis": {"title": null}}, "y": {"field": "v", "type": "quantitative", "scale": {"domain": [0, 25], "nice": false}, "axis": {"values": [0,5,10,15,20,25], "title": ["Leukocytes", "(x 10³ cells/µL blood)"]}}, "detail": {"field": "a"}}},
 {"title": {"text": "P7C3-A20 (20) / PTX"}, "width": 142, "height": 104, "layer": [
  {"data": {"values": [{"z": 0}]}, "mark": {"type": "rule", "color": "#bdbdbd", "strokeWidth": 0.8}, "encoding": {"y": {"datum": 0, "type": "quantitative", "axis": {"values": [-30,-20,-10,0,10,20], "labelOverlap": false, "title": ["Paw Withdrawal Threshold", "(Δ Baseline, g)"]}}}},
  {"data": {"name": "m4"}, "mark": {"type": "line", "color": "#9c59a9", "strokeWidth": 0.8}, "encoding": {"x": {"field": "d", "type": "ordinal", "scale": {"type": "point", "domain": [0, 7, 10, 12, 14], "padding": 0.05}, "axis": {"title": null}}, "y": {"field": "v", "type": "quantitative", "scale": {"domain": [-30, 20], "nice": false}, "axis": {"values": [-30,-20,-10,0,10,20], "labelOverlap": false, "title": ["Paw Withdrawal Threshold", "(Δ Baseline, g)"]}}, "detail": {"field": "a"}}}
 ]},
 {"width": 142, "height": 104, "layer": [
  {"data": {"values": [{"z": 0}]}, "mark": {"type": "rule", "color": "#bdbdbd", "strokeWidth": 0.8}, "encoding": {"y": {"datum": 0, "type": "quantitative", "axis": {"values": [-10,-5,0,5], "labelOverlap": false, "title": ["Paw Withdrawal Latency", "(Δ Baseline, s)"]}}}},
  {"data": {"name": "c4"}, "mark": {"type": "line", "color": "#9c59a9", "strokeWidth": 0.8}, "encoding": {"x": {"field": "d", "type": "ordinal", "scale": {"type": "point", "domain": [0, 7, 10, 12, 14], "padding": 0.05}, "axis": {"title": null}}, "y": {"field": "v", "type": "quantitative", "scale": {"domain": [-10, 5], "nice": false}, "axis": {"values": [-10,-5,0,5], "labelOverlap": false, "title": ["Paw Withdrawal Latency", "(Δ Baseline, s)"]}}, "detail": {"field": "a"}}}
 ]},

 {"width": 142, "height": 104, "data": {"name": "w5"}, "mark": {"type": "line", "color": "#f4a146", "strokeWidth": 0.8}, "encoding": {"x": {"field": "d", "type": "quantitative", "scale": {"domain": [-5.9, 14.45], "nice": false, "zero": false}, "axis": {"values": [-5,-4,-3,-2,-1,0,1,2,3,4,5,6,7,8,9,10,11,12,13,14], "title": null}}, "y": {"field": "v", "type": "quantitative", "scale": {"domain": [150, 400], "nice": false}, "axis": {"values": [150,200,250,300,350,400], "title": "Weight (g)"}}, "detail": {"field": "a"}}},
 {"width": 142, "height": 104, "data": {"name": "l5"}, "mark": {"type": "line", "color": "#f4a146", "strokeWidth": 0.8}, "encoding": {"x": {"field": "d", "type": "ordinal", "scale": {"type": "point", "domain": [-4, 8, 15], "padding": 0.04}, "axis": {"title": null}}, "y": {"field": "v", "type": "quantitative", "scale": {"domain": [0, 25], "nice": false}, "axis": {"values": [0,5,10,15,20,25], "title": ["Leukocytes", "(x 10³ cells/µL blood)"]}}, "detail": {"field": "a"}}},
 {"title": {"text": "P7C3-A20 (6.6) / PTX"}, "width": 142, "height": 104, "layer": [
  {"data": {"values": [{"z": 0}]}, "mark": {"type": "rule", "color": "#bdbdbd", "strokeWidth": 0.8}, "encoding": {"y": {"datum": 0, "type": "quantitative", "axis": {"values": [-30,-20,-10,0,10,20], "labelOverlap": false, "title": ["Paw Withdrawal Threshold", "(Δ Baseline, g)"]}}}},
  {"data": {"name": "m5"}, "mark": {"type": "line", "color": "#f4a146", "strokeWidth": 0.8}, "encoding": {"x": {"field": "d", "type": "ordinal", "scale": {"type": "point", "domain": [0, 7, 10, 12, 14], "padding": 0.05}, "axis": {"title": null}}, "y": {"field": "v", "type": "quantitative", "scale": {"domain": [-30, 20], "nice": false}, "axis": {"values": [-30,-20,-10,0,10,20], "labelOverlap": false, "title": ["Paw Withdrawal Threshold", "(Δ Baseline, g)"]}}, "detail": {"field": "a"}}}
 ]},
 {"width": 142, "height": 104, "layer": [
  {"data": {"values": [{"z": 0}]}, "mark": {"type": "rule", "color": "#bdbdbd", "strokeWidth": 0.8}, "encoding": {"y": {"datum": 0, "type": "quantitative", "axis": {"values": [-10,-5,0,5], "labelOverlap": false, "title": ["Paw Withdrawal Latency", "(Δ Baseline, s)"]}}}},
  {"data": {"name": "c5"}, "mark": {"type": "line", "color": "#f4a146", "strokeWidth": 0.8}, "encoding": {"x": {"field": "d", "type": "ordinal", "scale": {"type": "point", "domain": [0, 7, 10, 12, 14], "padding": 0.05}, "axis": {"title": null}}, "y": {"field": "v", "type": "quantitative", "scale": {"domain": [-10, 5], "nice": false}, "axis": {"values": [-10,-5,0,5], "labelOverlap": false, "title": ["Paw Withdrawal Latency", "(Δ Baseline, s)"]}}, "detail": {"field": "a"}}}
 ]},

 {"width": 142, "height": 104, "data": {"name": "w6"}, "mark": {"type": "line", "color": "#1a1a1a", "strokeWidth": 0.8}, "encoding": {"x": {"field": "d", "type": "quantitative", "scale": {"domain": [-5.9, 14.45], "nice": false, "zero": false}, "axis": {"values": [-5,-4,-3,-2,-1,0,1,2,3,4,5,6,7,8,9,10,11,12,13,14], "title": "Day"}}, "y": {"field": "v", "type": "quantitative", "scale": {"domain": [150, 400], "nice": false}, "axis": {"values": [150,200,250,300,350,400], "title": "Weight (g)"}}, "detail": {"field": "a"}}},
 {"width": 142, "height": 104, "data": {"name": "l6"}, "mark": {"type": "line", "color": "#1a1a1a", "strokeWidth": 0.8}, "encoding": {"x": {"field": "d", "type": "ordinal", "scale": {"type": "point", "domain": [-4, 8, 15], "padding": 0.04}, "axis": {"title": "Day"}}, "y": {"field": "v", "type": "quantitative", "scale": {"domain": [0, 25], "nice": false}, "axis": {"values": [0,5,10,15,20,25], "title": ["Leukocytes", "(x 10³ cells/µL blood)"]}}, "detail": {"field": "a"}}},
 {"title": {"text": "P7C3-A20 (2.2) / PTX"}, "width": 142, "height": 104, "layer": [
  {"data": {"values": [{"z": 0}]}, "mark": {"type": "rule", "color": "#bdbdbd", "strokeWidth": 0.8}, "encoding": {"y": {"datum": 0, "type": "quantitative", "axis": {"values": [-30,-20,-10,0,10,20], "labelOverlap": false, "title": ["Paw Withdrawal Threshold", "(Δ Baseline, g)"]}}}},
  {"data": {"name": "m6"}, "mark": {"type": "line", "color": "#1a1a1a", "strokeWidth": 0.8}, "encoding": {"x": {"field": "d", "type": "ordinal", "scale": {"type": "point", "domain": [0, 7, 10, 12, 14], "padding": 0.05}, "axis": {"title": "Day"}}, "y": {"field": "v", "type": "quantitative", "scale": {"domain": [-30, 20], "nice": false}, "axis": {"values": [-30,-20,-10,0,10,20], "labelOverlap": false, "title": ["Paw Withdrawal Threshold", "(Δ Baseline, g)"]}}, "detail": {"field": "a"}}}
 ]},
 {"width": 142, "height": 104, "layer": [
  {"data": {"values": [{"z": 0}]}, "mark": {"type": "rule", "color": "#bdbdbd", "strokeWidth": 0.8}, "encoding": {"y": {"datum": 0, "type": "quantitative", "axis": {"values": [-10,-5,0,5], "labelOverlap": false, "title": ["Paw Withdrawal Latency", "(Δ Baseline, s)"]}}}},
  {"data": {"name": "c6"}, "mark": {"type": "line", "color": "#1a1a1a", "strokeWidth": 0.8}, "encoding": {"x": {"field": "d", "type": "ordinal", "scale": {"type": "point", "domain": [0, 7, 10, 12, 14], "padding": 0.05}, "axis": {"title": "Day"}}, "y": {"field": "v", "type": "quantitative", "scale": {"domain": [-10, 5], "nice": false}, "axis": {"values": [-10,-5,0,5], "labelOverlap": false, "title": ["Paw Withdrawal Latency", "(Δ Baseline, s)"]}}, "detail": {"field": "a"}}}
 ]}
]
}
